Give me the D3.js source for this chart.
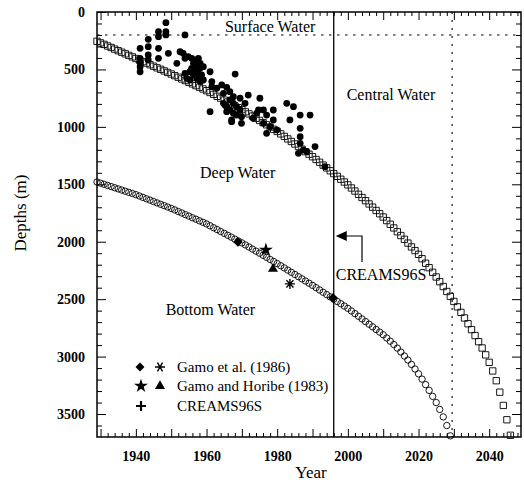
<!DOCTYPE html>
<html>
<head>
<meta charset="utf-8">
<script src="https://cdn.jsdelivr.net/npm/d3@7"></script>
<style>
body { margin: 0; background: #fff; }
text { font-family: "Liberation Serif", "Times New Roman", serif; fill: #000; }
</style>
</head>
<body>
<svg id="chart" width="524" height="483"></svg>
<script>
// deep water (squares) depth per year, 1929..2046
let deep_start = 1929
let deep_depths = [255, 269, 282, 296, 309, 323, 337, 350, 364, 378, 391,
    405, 418, 432, 445, 459, 472, 486, 499, 513, 526,
    540, 554, 568, 583, 597, 612, 626, 641, 655, 670,
    685, 701, 717, 734, 750, 767, 783, 800, 817, 833,
    850, 869, 887, 906, 925, 944, 963, 982, 1002, 1021,
    1040, 1061, 1083, 1105, 1127, 1149, 1171, 1194, 1216, 1238,
    1260, 1284, 1308, 1333, 1357, 1382, 1407, 1431, 1456, 1480,
    1505, 1532, 1559, 1587, 1615, 1643, 1671, 1699, 1728, 1756,
    1785, 1816, 1848, 1880, 1913, 1946, 1979, 2012, 2045, 2077,
    2110, 2148, 2187, 2226, 2266, 2307, 2348, 2390, 2433, 2476,
    2520, 2567, 2615, 2664, 2714, 2765, 2817, 2870, 2925, 2985,
    3050, 3125, 3210, 3310, 3425, 3550, 3685]

// bottom water (circles) depth per year, 1929..2029
let bottom_start = 1929
let bottom_depths = [1480, 1490, 1500, 1510, 1520, 1530, 1540, 1550, 1560, 1570, 1580,
    1590, 1602, 1614, 1626, 1638, 1650, 1662, 1674, 1686, 1698,
    1710, 1723, 1737, 1750, 1764, 1777, 1791, 1804, 1818, 1831,
    1845, 1861, 1878, 1894, 1911, 1927, 1944, 1960, 1977, 1993,
    2010, 2028, 2046, 2064, 2082, 2100, 2118, 2136, 2154, 2172,
    2190, 2209, 2228, 2247, 2266, 2285, 2304, 2323, 2342, 2361,
    2380, 2400, 2420, 2440, 2460, 2480, 2500, 2520, 2540, 2560,
    2580, 2603, 2626, 2649, 2672, 2695, 2718, 2741, 2764, 2787,
    2810, 2838, 2866, 2895, 2926, 2960, 2995, 3030, 3068, 3108,
    3150, 3196, 3244, 3294, 3346, 3400, 3460, 3525, 3600, 3690]

// observed profiles [year, depth]
let obs_dots = [
    [1941.2, 316], [1941.2, 403], [1941.2, 476], [1941.2, 520], [1941.2, 440],
    [1943.5, 238], [1943.5, 302], [1943.5, 374], [1943.5, 418],
    [1946.4, 172], [1946.4, 215], [1946.4, 316], [1946.4, 403],
    [1948.5, 93], [1948.5, 172], [1948.5, 200], [1949.2, 360],
    [1953.9, 200], [1951.6, 447], [1952.5, 346], [1953.4, 360], [1953.9, 403],
    [1954.8, 389], [1955.8, 403], [1956.7, 418], [1957.7, 403], [1956.3, 447],
    [1957.2, 461], [1958.2, 447], [1955.8, 490], [1956.7, 505], [1958.2, 490],
    [1959.1, 476], [1957.7, 534], [1958.6, 548], [1957.2, 577], [1956.3, 548],
    [1955.3, 520], [1953.9, 534], [1958.2, 606], [1959.1, 592], [1955.3, 592],
    [1954.4, 577],
    [1961.0, 520], [1961.5, 606], [1961.5, 650], [1962.9, 664], [1964.3, 635],
    [1964.8, 708], [1965.7, 656], [1968.1, 540], [1966.6, 694], [1967.6, 737],
    [1961.0, 868], [1964.8, 795], [1965.7, 824], [1966.6, 766], [1967.6, 795],
    [1968.5, 824], [1966.6, 853], [1965.7, 868], [1965.2, 810], [1967.6, 882],
    [1969.5, 853], [1968.5, 897], [1967.1, 940], [1969.9, 911], [1970.9, 795],
    [1969.5, 751], [1971.8, 723], [1975.1, 751], [1974.7, 853], [1973.2, 925],
    [1974.2, 882], [1976.1, 853], [1977.0, 897], [1978.9, 853], [1978.9, 940],
    [1978.0, 998], [1979.9, 1027], [1976.1, 969], [1977.0, 1056], [1969.9, 969],
    [1967.1, 955],
    [1982.7, 795], [1984.6, 824], [1983.6, 940], [1986.5, 897], [1989.3, 897],
    [1986.5, 1013], [1986.5, 1085], [1986.5, 1143], [1986.0, 1230], [1987.4, 1201],
    [1988.4, 1216], [1990.7, 1172], [1993.5, 1347]]

let gamo86_diamonds = [[1968.9, 2002], [1995.8, 2489]]
let gamo86_asterisks = [[1983.6, 2367]]
let gamo83_stars = [[1976.8, 2071]]
let gamo83_triangles = [[1978.8, 2237]]

let x_labels = [1940, 1960, 1980, 2000, 2020, 2040]
let y_labels = [0, 500, 1000, 1500, 2000, 2500, 3000, 3500]
let creams_year = 1996
let bottom_limit_year = 2029.5
let surface_depth = 200

let legend_rows = ["Gamo et al. (1986)", "Gamo and Horibe (1983)", "CREAMS96S"]

let svg = d3.select("#chart")
let x = d3.scaleLinear().domain([1929, 2049]).range([97, 521])
let y = d3.scaleLinear().domain([0, 3700]).range([12, 437])

let x_major = d3.range(1930, 2049, 10)
let x_minor = d3.range(1930, 2049, 2).filter(d => d % 10 != 0)
let y_minor = d3.range(100, 3700, 100).filter(d => d % 500 != 0)

function style_axis(g) {
    g.select(".domain").remove()
    g.selectAll("line").attr("stroke", "#000").attr("stroke-width", 1)
    g.selectAll("text").attr("font-size", 14).attr("font-weight", "bold")
        .attr("font-family", "Liberation Serif, serif")
}

// bottom / top ticks
svg.append("g").attr("transform", `translate(0, ${y.range()[1]})`)
    .call(d3.axisBottom(x).tickValues(x_major).tickSize(-8).tickSizeOuter(0).tickPadding(14)
        .tickFormat(d => x_labels.includes(d) ? d : ""))
    .call(style_axis)
svg.append("g").attr("transform", `translate(0, ${y.range()[1]})`)
    .call(d3.axisBottom(x).tickValues(x_minor).tickSize(-4).tickFormat(""))
    .call(style_axis)
svg.append("g").attr("transform", `translate(0, ${y.range()[0]})`)
    .call(d3.axisTop(x).tickValues(x_major).tickSize(-8).tickFormat(""))
    .call(style_axis)
svg.append("g").attr("transform", `translate(0, ${y.range()[0]})`)
    .call(d3.axisTop(x).tickValues(x_minor).tickSize(-4).tickFormat(""))
    .call(style_axis)

// left / right ticks
svg.append("g").attr("transform", `translate(${x.range()[0]}, 0)`)
    .call(d3.axisLeft(y).tickValues(y_labels).tickSize(-9).tickPadding(12).tickFormat(d3.format("d")))
    .call(style_axis)
svg.append("g").attr("transform", `translate(${x.range()[0]}, 0)`)
    .call(d3.axisLeft(y).tickValues(y_minor).tickSize(-5).tickFormat(""))
    .call(style_axis)
svg.append("g").attr("transform", `translate(${x.range()[1]}, 0)`)
    .call(d3.axisRight(y).tickValues(y_labels).tickSize(-9).tickFormat(""))
    .call(style_axis)
svg.append("g").attr("transform", `translate(${x.range()[1]}, 0)`)
    .call(d3.axisRight(y).tickValues(y_minor).tickSize(-5).tickFormat(""))
    .call(style_axis)

// frame
svg.append("rect")
    .attr("x", x.range()[0]).attr("y", y.range()[0])
    .attr("width", x.range()[1] - x.range()[0])
    .attr("height", y.range()[1] - y.range()[0])
    .attr("fill", "none").attr("stroke", "#000").attr("stroke-width", 1.5)

// reference lines
svg.append("line")
    .attr("x1", x.range()[0]).attr("x2", x.range()[1])
    .attr("y1", y(surface_depth)).attr("y2", y(surface_depth))
    .attr("stroke", "#000").attr("stroke-width", 1.1).attr("stroke-dasharray", "2.5,5.5")
svg.append("line")
    .attr("x1", x(bottom_limit_year)).attr("x2", x(bottom_limit_year))
    .attr("y1", y.range()[0]).attr("y2", y.range()[1])
    .attr("stroke", "#000").attr("stroke-width", 1.1).attr("stroke-dasharray", "2,6")
svg.append("line")
    .attr("x1", x(creams_year)).attr("x2", x(creams_year))
    .attr("y1", y.range()[0]).attr("y2", y.range()[1])
    .attr("stroke", "#000").attr("stroke-width", 1.3)

// model curves
svg.append("g").selectAll("path")
    .data(deep_depths)
    .enter()
    .append("path")
    .attr("d", d3.symbol(d3.symbolSquare, 40))
    .attr("transform", (d, i) => `translate(${x(deep_start + i)}, ${y(d)})`)
    .attr("fill", "none").attr("stroke", "#000").attr("stroke-width", 0.9)

svg.append("g").selectAll("circle")
    .data(bottom_depths)
    .enter()
    .append("circle")
    .attr("cx", (d, i) => x(bottom_start + i))
    .attr("cy", d => y(d))
    .attr("r", 3.2)
    .attr("fill", "none").attr("stroke", "#000").attr("stroke-width", 0.9)

// observations
svg.append("g").selectAll("circle")
    .data(obs_dots)
    .enter()
    .append("circle")
    .attr("cx", d => x(d[0]))
    .attr("cy", d => y(d[1]))
    .attr("r", 3.4)
    .attr("fill", "#000")

function asterisk(r, arms) {
    let p = d3.path()
    for (let k = 0; k < arms; k++) {
        let a = k * Math.PI / arms
        p.moveTo(-r * Math.cos(a), -r * Math.sin(a))
        p.lineTo(r * Math.cos(a), r * Math.sin(a))
    }
    return p.toString()
}

let marks = svg.append("g")
marks.selectAll(".dia").data(gamo86_diamonds).enter().append("path")
    .attr("d", d3.symbol(d3.symbolSquare, 46))
    .attr("transform", d => `translate(${x(d[0])}, ${y(d[1])}) rotate(45)`)
marks.selectAll(".ast").data(gamo86_asterisks).enter().append("path")
    .attr("d", asterisk(5, 4))
    .attr("transform", d => `translate(${x(d[0])}, ${y(d[1])})`)
    .attr("stroke", "#000").attr("stroke-width", 1.4)
marks.selectAll(".star").data(gamo83_stars).enter().append("path")
    .attr("d", d3.symbol(d3.symbolStar, 60))
    .attr("transform", d => `translate(${x(d[0])}, ${y(d[1])})`)
marks.selectAll(".tri").data(gamo83_triangles).enter().append("path")
    .attr("d", d3.symbol(d3.symbolTriangle, 44))
    .attr("transform", d => `translate(${x(d[0])}, ${y(d[1])})`)

// region labels
let labels = [
    {t: "Surface Water", x: x(1978), y: 31.5, anchor: "middle"},
    {t: "Central Water", x: x(2012.2), y: 100, anchor: "middle"},
    {t: "Deep Water", x: x(1968.8), y: 178, anchor: "middle"},
    {t: "Bottom Water", x: x(1961.1), y: 315, anchor: "middle"},
    {t: "CREAMS96S", x: x(creams_year) + 2, y: 280, anchor: "start"}
]
svg.append("g").selectAll("text")
    .data(labels)
    .enter()
    .append("text")
    .attr("x", d => d.x)
    .attr("y", d => d.y)
    .attr("text-anchor", d => d.anchor)
    .attr("font-size", 16)
    .text(d => d.t)

// arrow toward the CREAMS96S line
svg.append("path")
    .attr("d", `M${x(2004)},${y(2176)} V${y(1950)} H${x(creams_year) + 12}`)
    .attr("fill", "none").attr("stroke", "#000").attr("stroke-width", 1.2)
svg.append("path")
    .attr("d", `M${x(creams_year) + 2},${y(1950)} l11,-5 v10 z`)
    .attr("fill", "#000")

// legend
let lg = svg.append("g")
let row_y = [367, 386, 406]
lg.append("path").attr("d", d3.symbol(d3.symbolSquare, 40))
    .attr("transform", `translate(140, ${row_y[0]}) rotate(45)`)
lg.append("path").attr("d", asterisk(5, 3))
    .attr("transform", `translate(160, ${row_y[0]})`)
    .attr("stroke", "#000").attr("stroke-width", 1.4)
lg.append("path").attr("d", d3.symbol(d3.symbolStar, 60))
    .attr("transform", `translate(141, ${row_y[1]})`)
lg.append("path").attr("d", d3.symbol(d3.symbolTriangle, 44))
    .attr("transform", `translate(160, ${row_y[1]})`)
lg.append("path").attr("d", "M-5,0 H5 M0,-5 V5")
    .attr("transform", `translate(141, ${row_y[2]})`)
    .attr("stroke", "#000").attr("stroke-width", 2.2)
lg.selectAll("text")
    .data(legend_rows)
    .enter()
    .append("text")
    .attr("x", 177)
    .attr("y", (d, i) => row_y[i] + 5)
    .attr("font-size", 15)
    .text(d => d)

// axis titles
svg.append("text")
    .attr("x", 311).attr("y", 478)
    .attr("text-anchor", "middle")
    .attr("font-size", 17)
    .text("Year")
svg.append("text")
    .attr("transform", "translate(26, 213) rotate(-90)")
    .attr("text-anchor", "middle")
    .attr("font-size", 17)
    .text("Depths (m)")
</script>
</body>
</html>
